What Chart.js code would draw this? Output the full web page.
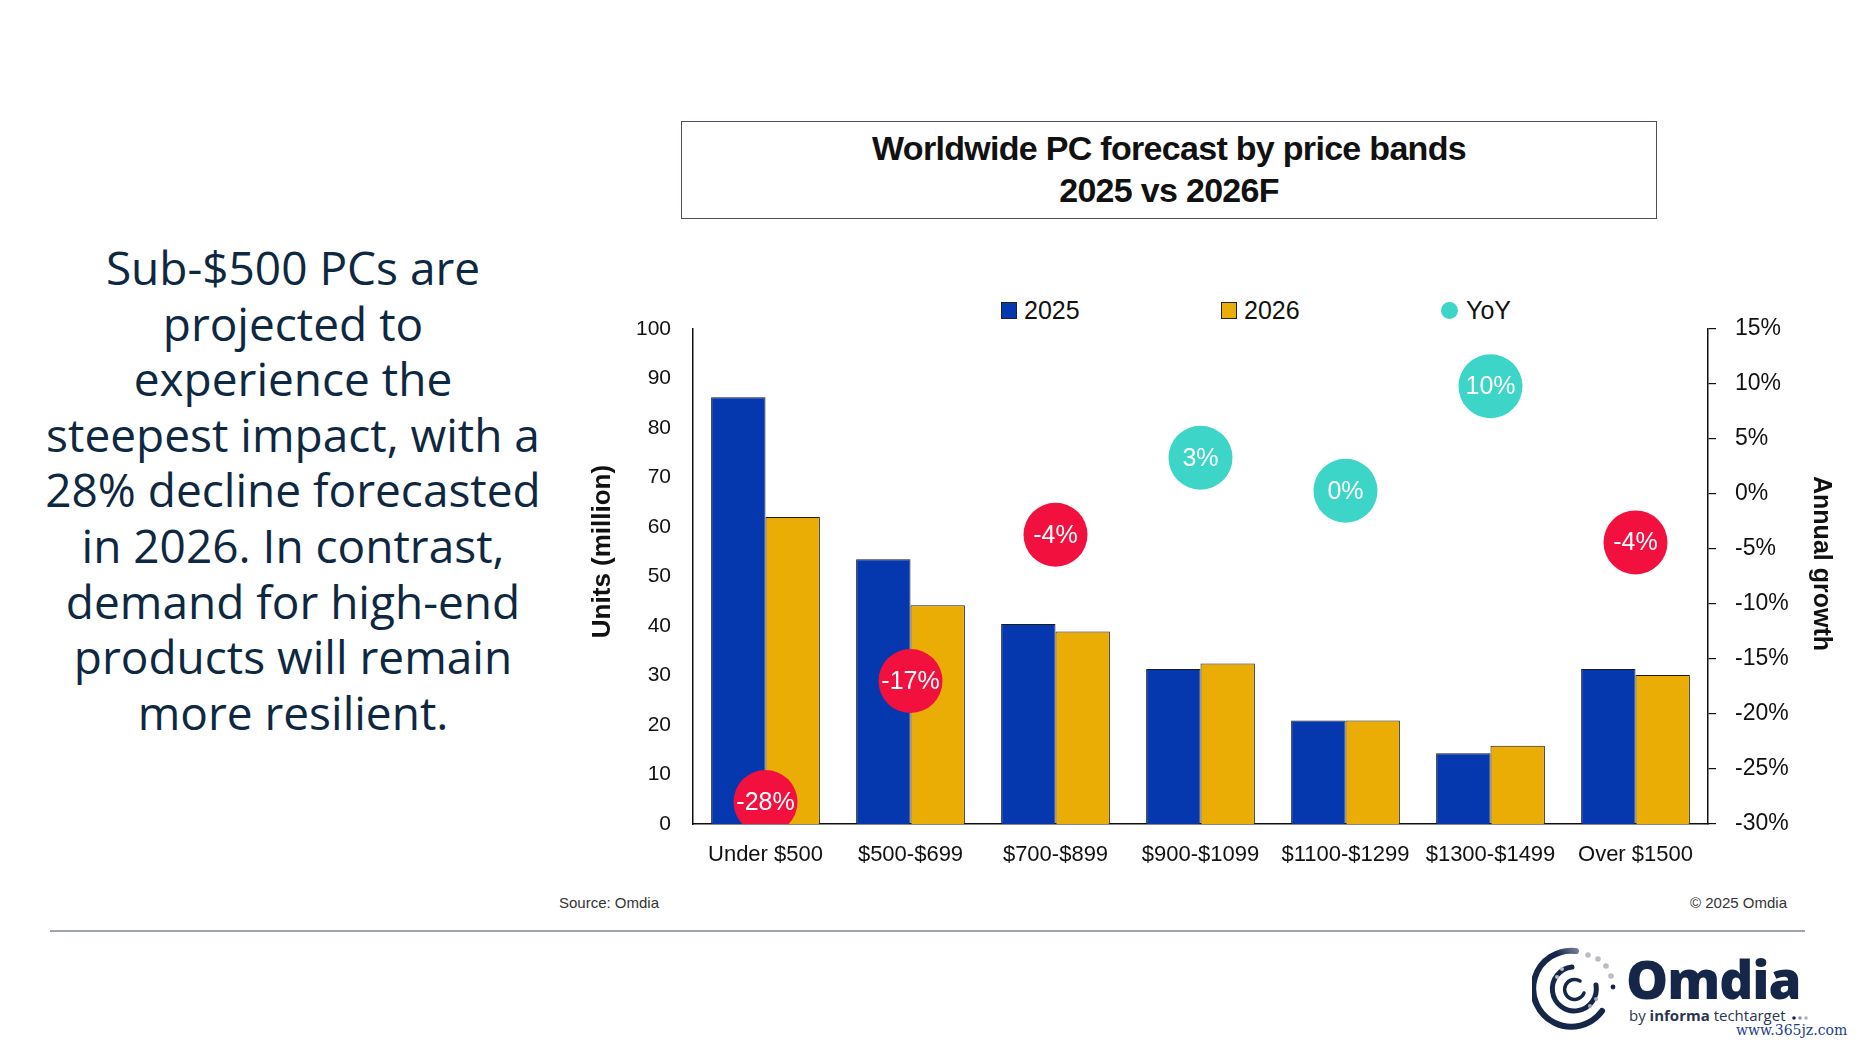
<!DOCTYPE html>
<html>
<head>
<meta charset="utf-8">
<script src="https://cdn.jsdelivr.net/npm/chart.js@4.4.1/dist/chart.umd.min.js"></script>
<style>
  html, body { margin:0; padding:0; background:#fff; }
  body { width:1858px; height:1047px; position:relative; overflow:hidden; font-family:"Liberation Sans", Arial, sans-serif; }
  #lefttext { position:absolute; left:3px; width:580px; top:240px; text-align:center; font-family:"Open Sans","Lato",sans-serif; font-size:46px; line-height:55.6px; color:#0e2841; }
  #titlebox { position:absolute; left:681px; top:121px; width:974px; height:96px; border:1.5px solid #4a5060; box-sizing:content-box; text-align:center; }
  #titlebox div { font-family:"Liberation Sans", Arial, sans-serif; font-weight:bold; font-size:34px; letter-spacing:-0.7px; color:#111; position:absolute; left:0; right:0; line-height:40px; }
  #chartwrap { position:absolute; left:560px; top:285px; width:1298px; height:600px; }
  #legend { position:absolute; top:296px; left:0; height:28px; }
  .lg { position:absolute; top:0; display:flex; align-items:center; font-size:25px; color:#111; white-space:nowrap; height:28px; }
  .lg .sw { width:16px; height:17px; border:1px solid #222; margin-right:7px; box-sizing:border-box; }
  .lg .dot { width:17px; height:17px; border-radius:50%; margin-right:8px; }
  .src { position:absolute; font-size:15px; color:#333; }
  #rule { position:absolute; left:50px; top:930px; width:1755px; height:2px; background:#9ea3ad; }
  #omdia { position:absolute; left:1626px; top:946px; font-family:"Open Sans","Lato",sans-serif; font-weight:800; font-size:53px; color:#152648; letter-spacing:-1px; line-height:66px; }
  #byline { position:absolute; left:1629px; top:1005px; font-family:"Open Sans",sans-serif; font-size:15px; color:#2b3550; }
  #wm { position:absolute; left:1736px; top:1022px; font-family:"DejaVu Serif", serif; font-size:14px; color:#1d3d8f; }
</style>
</head>
<body>
<div id="lefttext"></div>
<div id="titlebox"><div id="t1" style="top:6px">Worldwide PC forecast by price bands</div><div id="t2" style="top:48px">2025 vs 2026F</div></div>
<div id="legend"></div>
<div id="chartwrap"><canvas id="c" width="1298" height="600"></canvas></div>
<div class="src" style="left:559px; top:894px;">Source: Omdia</div>
<div class="src" style="left:1690px; width:97px; text-align:right; top:894px;">© 2025 Omdia</div>
<div id="rule"></div>
<svg id="logo" viewBox="0 0 300 90" style="position:absolute;left:1532px;top:945px;width:300px;height:90px">
  <defs>
    <linearGradient id="g1" x1="0" y1="1" x2="1" y2="0">
      <stop offset="0" stop-color="#152648"/>
      <stop offset="0.65" stop-color="#152648"/>
      <stop offset="1" stop-color="#d0d3da"/>
    </linearGradient>
  </defs>
  <path d="M 70 66 A 38 38 0 1 1 44 6" fill="none" stroke="url(#g1)" stroke-width="6" stroke-linecap="round"/>
  <path d="M 40 22 A 22 22 0 1 0 64 40" fill="none" stroke="#152648" stroke-width="5" stroke-linecap="round"/>
  <path d="M 48 36 A 10 10 0 1 0 52 48" fill="none" stroke="#152648" stroke-width="3.5" stroke-linecap="round"/>
  <circle cx="56" cy="10" r="2.8" fill="#b9bcc5"/>
  <circle cx="66" cy="14" r="2.8" fill="#b9bcc5"/>
  <circle cx="74" cy="21" r="2.8" fill="#b9bcc5"/>
  <circle cx="79" cy="31" r="2.8" fill="#b9bcc5"/>
  <circle cx="81" cy="42" r="2.4" fill="#152648"/>
  <circle cx="30" cy="24" r="2" fill="#b9bcc5"/>
  <circle cx="25" cy="32" r="2" fill="#b9bcc5"/>
  <circle cx="64" cy="54" r="2" fill="#a0a5b2"/>
  <circle cx="58" cy="61" r="2" fill="#a0a5b2"/>
  <circle cx="262" cy="73" r="1.8" fill="#152648"/>
  <circle cx="268" cy="73" r="1.8" fill="#8d93a2"/>
  <circle cx="274" cy="73" r="1.8" fill="#b0b4be"/>
</svg>
<div id="omdia">Omdia</div>
<div id="byline">by <b>informa</b> techtarget</div>
<div id="wm">www.365jz.com</div>

<script>
// ---- DATA ----
const categories = ["Under $500", "$500-$699", "$700-$899", "$900-$1099", "$1100-$1299", "$1300-$1499", "Over $1500"];
const units2025 = [86.2, 53.5, 40.4, 31.3, 20.9, 14.3, 31.3];
const units2026 = [62.0, 44.2, 38.9, 32.4, 20.9, 15.8, 30.1];
const yoyGrowth = [-28.0, -17.0, -3.7, 3.3, 0.3, 9.8, -4.4];
const seriesNames = ["2025", "2026", "YoY"];
const leftTicks = [0, 10, 20, 30, 40, 50, 60, 70, 80, 90, 100];
const rightTicks = [-30, -25, -20, -15, -10, -5, 0, 5, 10, 15];
const leftTitle = "Units (million)";
const rightTitle = "Annual growth";
const sideText = ["Sub-$500 PCs are", "projected to", "experience the", "steepest impact, with a", "28% decline forecasted", "in 2026. In contrast,", "demand for high-end", "products will remain", "more resilient."];

// ---- STYLE ----
const C2025 = "#0537ae", C2026 = "#e9ad05", CPOS = "#3dd5c7", CNEG = "#f2103f";
const FAM = "'Liberation Sans', Arial, sans-serif";

document.getElementById("lefttext").innerHTML = sideText.map(s => "<div>" + s + "</div>").join("");

// legend (HTML, generated from the series)
const legendLefts = [1001, 1221, 1441];
const legendEl = document.getElementById("legend");
seriesNames.forEach((n, i) => {
  const d = document.createElement("div");
  d.className = "lg";
  d.style.left = legendLefts[i] + "px";
  const sw = document.createElement("span");
  if (i < 2) { sw.className = "sw"; sw.style.background = i === 0 ? C2025 : C2026; }
  else { sw.className = "dot"; sw.style.background = CPOS; }
  d.appendChild(sw);
  d.appendChild(document.createTextNode(n));
  legendEl.appendChild(d);
});

const labelPlugin = {
  id: "yoyLabels",
  afterDatasetsDraw(chart) {
    const meta = chart.getDatasetMeta(2);
    const ctx = chart.ctx;
    ctx.save();
    ctx.font = "25px " + FAM;
    ctx.fillStyle = "#fff";
    ctx.textAlign = "center";
    ctx.textBaseline = "middle";
    meta.data.forEach((pt, i) => {
      ctx.fillText(Math.round(yoyGrowth[i]) + "%", pt.x, pt.y + 1);
    });
    ctx.restore();
  }
};

const axisTitlePlugin = {
  id: "axisTitles",
  afterDraw(chart) {
    const a = chart.chartArea, ctx = chart.ctx;
    const mid = (a.top + a.bottom) / 2;
    ctx.save();
    ctx.font = "bold 26px " + FAM;
    ctx.fillStyle = "#111";
    ctx.textAlign = "center";
    ctx.textBaseline = "middle";
    ctx.translate(a.left - 90, mid - 25);
    ctx.rotate(-Math.PI / 2);
    ctx.fillText(leftTitle, 0, 0);
    ctx.restore();
    ctx.save();
    ctx.font = "bold 25px " + FAM;
    ctx.fillStyle = "#111";
    ctx.textAlign = "center";
    ctx.textBaseline = "middle";
    ctx.translate(a.right + 113, mid - 13);
    ctx.rotate(Math.PI / 2);
    ctx.fillText(rightTitle, 0, 0);
    ctx.restore();
  }
};

new Chart(document.getElementById("c"), {
  data: {
    labels: categories,
    datasets: [
      { type: "bar", label: seriesNames[0], data: units2025, backgroundColor: C2025, borderColor: "#1a1a1a", borderWidth: 1, yAxisID: "y", order: 2, categoryPercentage: 0.75, barPercentage: 1.0 },
      { type: "bar", label: seriesNames[1], data: units2026, backgroundColor: C2026, borderColor: "#1a1a1a", borderWidth: 1, yAxisID: "y", order: 2, categoryPercentage: 0.75, barPercentage: 1.0 },
      { type: "line", label: seriesNames[2], data: yoyGrowth, showLine: false, yAxisID: "y1", order: 0,
        pointRadius: 32, pointHoverRadius: 32, pointBorderWidth: 0,
        pointBackgroundColor: c => (yoyGrowth[c.dataIndex] < 0 ? CNEG : CPOS) }
    ]
  },
  options: {
    responsive: false,
    animation: false,
    events: [],
    layout: { padding: { top: 44, left: 0, right: 0, bottom: 0 } },
    plugins: { legend: { display: false }, tooltip: { enabled: false } },
    scales: {
      x: {
        grid: { display: false },
        border: { display: true, color: "#111", width: 1.5 },
        ticks: { color: "#111", font: { family: FAM, size: 22 }, padding: 10, maxRotation: 0 },
        afterFit: s => { s.height = 61; }
      },
      y: {
        position: "left", min: 0, max: 100,
        afterBuildTicks: s => { s.ticks = leftTicks.map(v => ({ value: v })); },
        grid: { display: false },
        border: { display: true, color: "#111", width: 1.5 },
        ticks: { color: "#111", font: { family: FAM, size: 21 }, padding: 14 },
        afterFit: s => { s.width = 133; }
      },
      y1: {
        position: "right", min: -30, max: 15,
        afterBuildTicks: s => { s.ticks = rightTicks.map(v => ({ value: v })); },
        grid: { display: true, drawOnChartArea: false, drawTicks: true, tickLength: 8, color: "#111", lineWidth: 1.2 },
        border: { display: true, color: "#111", width: 1.5 },
        ticks: { color: "#111", font: { family: FAM, size: 23 }, padding: 19, callback: v => v + "%" },
        afterFit: s => { s.width = 150; }
      }
    }
  },
  plugins: [labelPlugin, axisTitlePlugin]
});
</script>
</body>
</html>
